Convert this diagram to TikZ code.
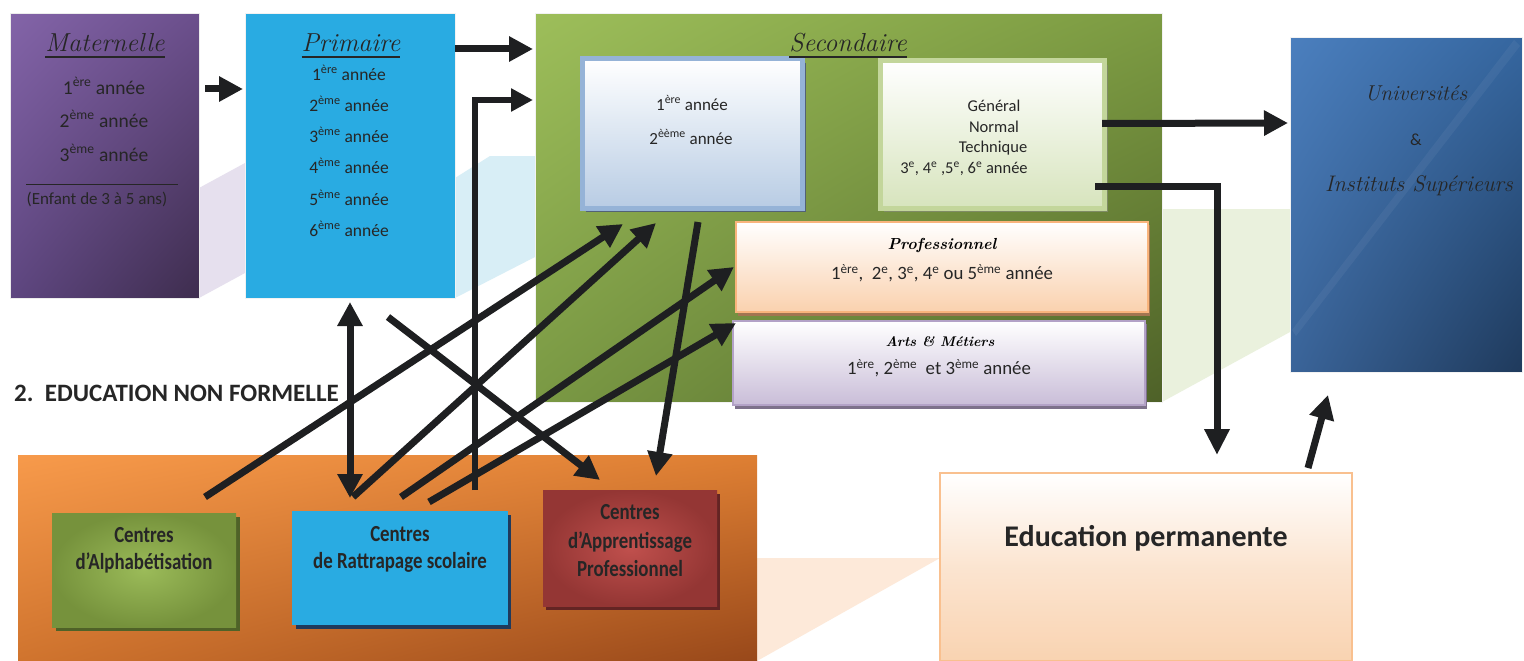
\documentclass[tikz,border=0pt]{standalone}
\usepackage{fontspec}
\newfontfamily\carl{Carlito}
\newfontfamily\carlc{Carlito}[FakeStretch=0.82]
\usetikzlibrary{arrows.meta,calc,shadings}
\newcommand\myup[1]{\textsuperscript{#1}}
\definecolor{arrowc}{HTML}{1E1F21}
\definecolor{txt}{HTML}{262626}
\definecolor{matA}{HTML}{8364A8}
\definecolor{matB}{HTML}{3E2D4E}
\definecolor{matC}{HTML}{6B4F8C}
\definecolor{matD}{HTML}{5E4680}
\definecolor{primc}{HTML}{29ABE2}
\definecolor{secA}{HTML}{9DBE5A}
\definecolor{secB}{HTML}{4E6128}
\definecolor{secC}{HTML}{7C9B42}
\definecolor{secD}{HTML}{7A9944}
\definecolor{univA}{HTML}{4B7FBE}
\definecolor{univB}{HTML}{1F3A5C}
\definecolor{univC}{HTML}{35669F}
\definecolor{univD}{HTML}{3A6499}
\definecolor{orA}{HTML}{F79A4B}
\definecolor{orB}{HTML}{98481A}
\definecolor{orC}{HTML}{DE7F33}
\definecolor{orD}{HTML}{D0742E}
\definecolor{s1border}{HTML}{95B3D7}
\definecolor{s1bot}{HTML}{B8CCE4}
\definecolor{s2border}{HTML}{C3D69B}
\definecolor{s2bot}{HTML}{D7E4BD}
\definecolor{profborder}{HTML}{F9B47C}
\definecolor{profbot}{HTML}{FAD1AE}
\definecolor{artsborder}{HTML}{B3A2C7}
\definecolor{artsbot}{HTML}{C9BDD8}
\definecolor{edubot}{HTML}{F9D3B1}
\definecolor{eduborder}{HTML}{F9C08F}
\definecolor{lav}{HTML}{E6E0EE}
\definecolor{lcyan}{HTML}{D8EEF6}
\definecolor{lgreen}{HTML}{EAF1DD}
\definecolor{lpeach}{HTML}{FDE9D9}
\definecolor{alphin}{HTML}{9BBB59}
\definecolor{alphout}{HTML}{76923C}
\definecolor{alphsh}{HTML}{4F6228}
\definecolor{apprin}{HTML}{C0504D}
\definecolor{approut}{HTML}{943634}
\definecolor{apprsh}{HTML}{632423}
\definecolor{rattsh}{HTML}{1F3A5C}
\begin{document}
\begin{tikzpicture}[x=1pt,y=-1pt,
  box/.style={anchor=north west, inner sep=0pt, outer sep=0pt},
  arr/.style={draw=arrowc, line width=7pt, -{Triangle[length=24pt,width=24pt]}},
  darr/.style={draw=arrowc, line width=7pt, {Triangle[length=24pt,width=24pt]}-{Triangle[length=24pt,width=24pt]}},
  elb/.style={draw=arrowc, line width=6pt, -{Triangle[length=22pt,width=22pt]}},
  ttl/.style={font=\itshape\fontsize{26}{28}\selectfont, text=txt, inner sep=0pt},
  uline/.style={draw=txt, line width=2.6pt},
  yrM/.style={font=\carl\fontsize{19.5}{22}\selectfont, text=txt, inner sep=0pt},
  yrP/.style={font=\carl\fontsize{17.5}{20}\selectfont, text=txt, inner sep=0pt},
  yrS/.style={font=\carl\fontsize{17}{20}\selectfont, text=txt, inner sep=0pt},
  yrG/.style={font=\carl\fontsize{16.5}{20}\selectfont, text=txt, inner sep=0pt},
  yrL/.style={font=\carl\fontsize{18.8}{22}\selectfont, text=txt, inner sep=0pt},
  brush/.style={font=\bfseries\itshape\fontsize{16}{18}\selectfont, text=black, inner sep=0pt},
  uni/.style={font=\itshape\fontsize{21.5}{24}\selectfont, text=txt, inner sep=0pt},
  ctr/.style={font=\carlc\bfseries\fontsize{23}{27}\selectfont, text=txt, align=center, inner sep=0pt},
]
\useasboundingbox (0,0) rectangle (1524,661);
\fill[white] (0,0) rectangle (1524,661);
% 3D background planes
\fill[lav] (199,188) -- (245,163) -- (245,273) -- (199,298) -- cycle;
\fill[lcyan] (455,178) -- (490,156) -- (535,156) -- (535,257) -- (455,298) -- cycle;
\fill[lgreen] (1162,209) -- (1290,209) -- (1290,332) -- (1162,402) -- cycle;
\fill[lpeach] (757,558) -- (940,558) -- (757,661) -- cycle;

% main boxes
\node[box, minimum width=189pt, minimum height=284pt, draw=gray!15, line width=1pt,
  shade, upper left=matA, upper right=matC, lower left=matD, lower right=matB] (mat) at (10,14) {};
\node[box, minimum width=210pt, minimum height=284pt, draw=gray!10, line width=1pt, fill=primc] (prim) at (245,14) {};
\node[box, minimum width=627pt, minimum height=388pt, draw=gray!10, line width=1pt,
  shade, upper left=secA, upper right=secC, lower left=secD, lower right=secB] (sec) at (535,14) {};
\node[box, minimum width=232pt, minimum height=334pt, draw=gray!10, line width=1pt,
  shade, upper left=univA, upper right=univC, lower left=univD, lower right=univB] (univ) at (1290,38) {};
\fill[white, opacity=0.05] (1292,330) -- (1296,336) -- (1520,46) -- (1514,40) -- cycle;
\node[box, minimum width=739pt, minimum height=206pt,
  shade, upper left=orA, upper right=orC, lower left=orD, lower right=orB] (nonf) at (18,455) {};
\node[box, minimum width=412pt, minimum height=188pt, draw=eduborder, line width=1.5pt,
  shade, top color=white, bottom color=edubot, middle color=white!40!edubot] (edu) at (940,473) {};

% secondaire inner boxes
\fill[black!45!s1border] (586,63) rectangle (806,212);
\node[box, minimum width=220pt, minimum height=149pt, draw=s1border, line width=5pt,
  shade, top color=white, bottom color=s1bot] (s1) at (582,59) {};
\fill[black!35!s2border] (884,65) rectangle (1108,212);
\node[box, minimum width=224pt, minimum height=147pt, draw=s2border, line width=5pt,
  shade, top color=white, bottom color=s2bot] (s2) at (880,61) {};
\fill[black!35!profborder] (738,225) rectangle (1150,316);
\node[box, minimum width=412pt, minimum height=90pt, draw=profborder, line width=2.5pt,
  shade, top color=white, bottom color=profbot] (prof) at (736,222) {};
\fill[black!30!artsborder] (735,324) rectangle (1147,409);
\node[box, minimum width=412pt, minimum height=84pt, draw=artsborder, line width=2.5pt,
  shade, top color=white, bottom color=artsbot] (arts) at (733,321) {};

% non formal boxes
\fill[alphsh] (56,517) rectangle (240,631);
\node[box, minimum width=184pt, minimum height=114pt, shade, inner color=alphin, outer color=alphout] (alpha) at (52,513) {};
\fill[rattsh] (296,515) rectangle (511,629);
\node[box, minimum width=216pt, minimum height=114pt, fill=primc] (ratt) at (292,511) {};
\fill[apprsh] (546,494) rectangle (720,610);
\node[box, minimum width=174pt, minimum height=116pt, shade, inner color=apprin, outer color=approut] (appr) at (543,490) {};

% titles
\node[ttl, anchor=base] (matT) at (105,52) {Maternelle};
\draw[uline] ([yshift=-5pt]matT.base west) -- ([yshift=-5pt]matT.base east);
\node[ttl, anchor=base] (primT) at (351,52) {Primaire};
\draw[uline] ([yshift=-5pt]primT.base west) -- ([yshift=-5pt]primT.base east);
\node[ttl, anchor=base] (secT) at (848,52) {Secondaire};
\draw[uline] ([yshift=-5pt]secT.base west) -- ([yshift=-5pt]secT.base east);

% maternelle texts
\node[yrM] (m1) at (104,86) {1\myup{ère} année};
\node[yrM] (m2) at (104,119) {2\myup{ème} année};
\node[yrM] (m3) at (104,153) {3\myup{ème} année};
\draw[txt, line width=0.9pt] (26,184) -- (178,184);
\node[font=\carl\fontsize{17}{19}\selectfont, text=txt, inner sep=0pt] (m4) at (97,199) {(Enfant de 3 à 5 ans)};

% primaire texts
\node[yrP] (p1) at (349,73) {1\myup{ère} année};
\node[yrP] (p2) at (349,104) {2\myup{ème} année};
\node[yrP] (p3) at (349,135) {3\myup{ème} année};
\node[yrP] (p4) at (349,166) {4\myup{ème} année};
\node[yrP] (p5) at (349,198) {5\myup{ème} année};
\node[yrP] (p6) at (349,229) {6\myup{ème} année};

% secondaire texts
\node[yrS] (s11) at (692,103) {1\myup{ère} année};
\node[yrS] (s12) at (691,137) {2\myup{èème} année};
\node[yrG] (s21) at (994,106) {Général};
\node[yrG] (s22) at (994,127) {Normal};
\node[yrG] (s23) at (993,148) {Technique};
\node[yrG] (s24) at (964,169) {3\myup{e}, 4\myup{e} ,5\myup{e}, 6\myup{e} année};
\node[brush] (profT) at (942,245) {Professionnel};
\node[yrL] (profL) at (942,273) {1\myup{ère},\ \ 2\myup{e}, 3\myup{e}, 4\myup{e} ou 5\myup{ème} année};
\node[brush, font=\bfseries\itshape\fontsize{14}{16}\selectfont] (artsT) at (940,342) {Arts \& Métiers};
\node[yrL] (artsL) at (939,368) {1\myup{ère}, 2\myup{ème}\ \ et 3\myup{ème}\ année};

% universites
\node[uni] (u1) at (1416,93) {Universités};
\node[yrS] (u2) at (1416,140) {\&};
\node[uni, font=\itshape\fontsize{22.5}{24}\selectfont] (u3) at (1419,186) {Instituts Supérieurs};

% non formal label and boxes text
\node[font=\carl\bfseries\fontsize{25}{28}\selectfont, text=txt, anchor=west, inner sep=0pt] (nfl) at (14,393) {2.\ \ EDUCATION NON FORMELLE};
\node[ctr] (alphaT) at (144,550) {Centres\\d’Alphabétisation};
\node[ctr] (rattT) at (400,549) {Centres\\de Rattrapage scolaire};
\node[ctr, font=\carlc\bfseries\fontsize{23}{28.5}\selectfont] (apprT) at (630,541) {Centres\\d’Apprentissage\\Professionnel};
\node[font=\carl\bfseries\fontsize{30}{34}\selectfont, text=txt, inner sep=0pt] (eduT) at (1146,538) {Education permanente};

% arrows
\draw[arr] ([xshift=6pt,yshift=67pt]mat.east) -- ([xshift=-2pt,yshift=67pt]prim.west);
\draw[arr] ([yshift=-35pt]prim.north east) -- ([xshift=-2pt,yshift=-35pt]sec.north west);
\draw[elb] ([xshift=75pt,yshift=21pt]ratt.north) |- ([xshift=-2pt,yshift=-86pt]sec.north west);
\draw[darr] ([yshift=-4pt]prim.south) -- ([xshift=-50pt,yshift=13pt]ratt.north);
\draw[arr] ([xshift=38pt,yshift=-19pt]prim.south) -- ([xshift=-30pt,yshift=10pt]appr.north);
\draw[arr] ([xshift=61pt,yshift=16pt]alpha.north) -- ([xshift=-69pt,yshift=-16pt]s1.south);
\draw[arr] ([xshift=-47pt,yshift=14pt]ratt.north) -- ([xshift=-36pt,yshift=-15pt]s1.south);
\draw[arr] ([xshift=1pt,yshift=14pt]ratt.north) -- ([xshift=-2pt]prof.west);
\draw[arr] ([xshift=29pt,yshift=9pt]ratt.north) -- ([xshift=3pt,yshift=-2pt]arts.north west);
\draw[arr] ([xshift=6pt,yshift=-14pt]s1.south) -- ([xshift=26pt,yshift=14pt]appr.north);
\draw[arr] ([xshift=-2pt,yshift=11pt]s2.east) -- ([xshift=-2pt,yshift=82pt]univ.west);
\draw[elb, line width=7pt, -{Triangle[length=26pt,width=24pt]}] ([xshift=-9pt,yshift=-52pt]s2.east) -| ([xshift=71pt,yshift=18pt]edu.north);
\draw[arr] ([xshift=162pt,yshift=5pt]edu.north) -- ([xshift=-78pt,yshift=-23pt]univ.south);
\end{tikzpicture}
\end{document}
